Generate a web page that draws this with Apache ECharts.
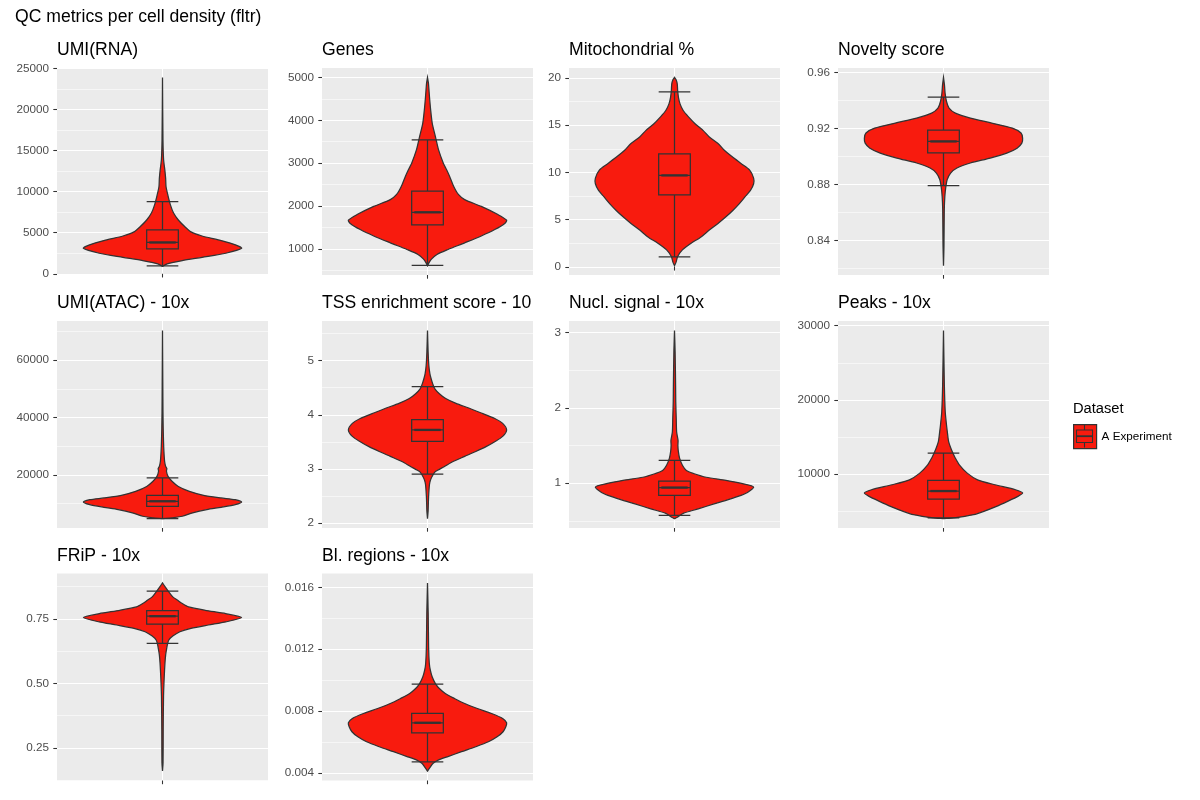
<!DOCTYPE html>
<html>
<head>
<meta charset="utf-8">
<script src="https://cdn.jsdelivr.net/npm/echarts@6/dist/echarts.min.js"></script>
<style>
  html, body { margin: 0; padding: 0; background: #fff; }
  #chart { width: 1200px; height: 800px; }
</style>
</head>
<body>
<div id="chart"></div>
<script>
// panel titles, in reading order
const panelTitles = ['UMI(RNA)', 'Genes', 'Mitochondrial %', 'Novelty score',
  'UMI(ATAC) - 10x', 'TSS enrichment score - 10x', 'Nucl. signal - 10x', 'Peaks - 10x',
  'FRiP - 10x', 'Bl. regions - 10x'];

// violin outlines: [value, relative density (1 = widest)]
const violinUmiRna = [[900,0],[1200,0.06],[1600,0.25],[2000,0.5],[2500,0.8],[3100,1],[3500,0.93],[4100,0.72],[4600,0.5],[5100,0.36],[5750,0.28],[6550,0.2],[7400,0.14],[8400,0.1],[9500,0.07],[10600,0.045],[11600,0.04],[12600,0.03],[13900,0.014],[16300,0.006],[23900,0]];
const violinGenes = [[605,0],[680,0.02],[760,0.05],[870,0.12],[985,0.26],[1140,0.47],[1300,0.68],[1450,0.85],[1600,0.98],[1670,1],[1800,0.89],[1990,0.68],[2150,0.47],[2270,0.39],[2460,0.33],[2690,0.28],[2850,0.24],[3000,0.2],[3310,0.14],[3620,0.1],[3930,0.06],[4240,0.04],[4550,0.025],[4860,0.012],[5000,0]];
const violinMito = [[0.12,0],[0.5,0.02],[1.1,0.04],[1.8,0.1],[2.5,0.21],[3.2,0.34],[3.9,0.44],[4.6,0.55],[5.3,0.65],[6.0,0.74],[6.7,0.82],[7.4,0.89],[8.1,0.96],[8.8,1],[9.4,1],[10.25,0.95],[10.95,0.84],[11.65,0.73],[12.35,0.63],[13.05,0.55],[13.75,0.44],[14.45,0.36],[15.15,0.26],[15.85,0.18],[16.55,0.11],[17.25,0.07],[17.95,0.05],[18.65,0.04],[19.35,0.035],[19.8,0.02],[20.05,0]];
const violinNovelty = [[0.8222,0],[0.836,0.006],[0.862,0.01],[0.8716,0.017],[0.8787,0.03],[0.8835,0.046],[0.8882,0.09],[0.8918,0.17],[0.8954,0.34],[0.8989,0.59],[0.9025,0.8],[0.906,0.93],[0.9096,0.99],[0.913,1],[0.9168,0.98],[0.9203,0.87],[0.9239,0.61],[0.9275,0.34],[0.931,0.15],[0.9346,0.07],[0.9393,0.038],[0.9453,0.02],[0.9512,0.012],[0.9565,0]];
const violinUmiAtac = [[4800,0],[5040,0.12],[5620,0.25],[6780,0.38],[7940,0.56],[8750,0.74],[9680,0.92],[10600,1],[11400,0.92],[12000,0.74],[12900,0.52],[14300,0.34],[16000,0.2],[17800,0.12],[19500,0.07],[21300,0.05],[22200,0.055],[23000,0.04],[24700,0.027],[28200,0.018],[31700,0.013],[36300,0.009],[42100,0.006],[51400,0.004],[70400,0]];
const violinTss = [[2.08,0],[2.22,0.008],[2.46,0.013],[2.71,0.025],[2.8,0.04],[2.89,0.07],[2.95,0.1],[3.04,0.21],[3.14,0.33],[3.23,0.47],[3.32,0.61],[3.41,0.74],[3.5,0.85],[3.6,0.95],[3.72,1],[3.84,0.95],[3.93,0.85],[4.02,0.7],[4.12,0.53],[4.21,0.36],[4.3,0.23],[4.39,0.15],[4.48,0.093],[4.58,0.064],[4.67,0.045],[4.76,0.03],[4.91,0.017],[5.16,0.008],[5.56,0]];
const violinNucl = [[0.531,0],[0.545,0.03],[0.6,0.11],[0.66,0.3],[0.73,0.51],[0.8,0.73],[0.86,0.89],[0.95,1],[0.996,0.86],[1.04,0.65],[1.08,0.4],[1.13,0.24],[1.17,0.15],[1.24,0.1],[1.33,0.065],[1.42,0.049],[1.5,0.043],[1.57,0.045],[1.68,0.027],[1.86,0.022],[2.08,0.016],[2.3,0.014],[2.74,0.008],[3.03,0]];
const violinPeaks = [[3950,0],[4040,0.13],[4480,0.38],[4930,0.51],[5600,0.67],[6280,0.81],[6950,0.94],[7400,1],[7850,0.91],[8520,0.65],[9190,0.43],[10090,0.3],[11210,0.2],[12110,0.15],[13000,0.11],[14350,0.065],[15700,0.048],[16590,0.038],[18390,0.022],[21970,0.011],[29370,0]];
const violinFrip = [[0.16,0],[0.192,0.007],[0.32,0.009],[0.45,0.013],[0.526,0.022],[0.578,0.031],[0.61,0.04],[0.63,0.05],[0.65,0.062],[0.668,0.08],[0.683,0.13],[0.7,0.22],[0.713,0.36],[0.726,0.58],[0.738,0.8],[0.755,1],[0.77,0.8],[0.783,0.54],[0.796,0.33],[0.809,0.25],[0.822,0.19],[0.835,0.13],[0.854,0.08],[0.873,0.036],[0.889,0]];
const violinBlRegions = [[0.00413,0],[0.0043,0.023],[0.00462,0.068],[0.00484,0.135],[0.00505,0.25],[0.00538,0.43],[0.0057,0.61],[0.00602,0.77],[0.00634,0.88],[0.00667,0.955],[0.00699,0.99],[0.00725,1],[0.00753,0.95],[0.00785,0.81],[0.00817,0.63],[0.00849,0.47],[0.00882,0.34],[0.00914,0.225],[0.00946,0.15],[0.00978,0.1],[0.0102,0.06],[0.01065,0.036],[0.01108,0.023],[0.01215,0.014],[0.0143,0.009],[0.01628,0]];

// box stats: [lower whisker, Q1, median, Q3, upper whisker]
const boxUmiRna = [970, 3040, 3810, 5350, 8790];
const boxGenes = [612, 1558, 1853, 2349, 3543];
const boxMito = [1.05, 7.61, 9.68, 11.96, 18.53];
const boxNovelty = [0.8792, 0.9027, 0.9108, 0.9189, 0.9424];
const boxUmiAtac = [4810, 9100, 10840, 12930, 18960];
const boxTss = [2.90, 3.51, 3.72, 3.91, 4.52];
const boxNucl = [0.575, 0.84, 0.943, 1.03, 1.305];
const boxPeaks = [4040, 6590, 7670, 9100, 12780];
const boxFrip = [0.655, 0.729, 0.760, 0.782, 0.857];
const boxBlRegions = [0.00473, 0.0066, 0.00725, 0.00785, 0.00974];

// y scale limits of each panel
const yLimits = [[-150, 25070], [390, 5220], [-0.86, 21.05], [0.8155, 0.9632],
  [1520, 73680], [1.906, 5.734], [0.406, 3.155], [2680, 30640],
  [0.1235, 0.9255], [0.00352, 0.01689]];

// major tick labels and minor grid breaks
const tickLabels = [
  ['0','5000','10000','15000','20000','25000'],
  ['1000','2000','3000','4000','5000'],
  ['0','5','10','15','20'],
  ['0.84','0.88','0.92','0.96'],
  ['20000','40000','60000'],
  ['2','3','4','5'],
  ['1','2','3'],
  ['10000','20000','30000'],
  ['0.25','0.50','0.75'],
  ['0.004','0.008','0.012','0.016']
];
const minorBreaks = [
  [2500,7500,12500,17500,22500],
  [500,1500,2500,3500,4500],
  [2.5,7.5,12.5,17.5],
  [0.82,0.86,0.90,0.94],
  [10000,30000,50000,70000],
  [2.5,3.5,4.5,5.5],
  [0.5,1.5,2.5],
  [5000,15000,25000],
  [0.125,0.375,0.625,0.875],
  [0.006,0.010,0.014]
];

const violins = [violinUmiRna, violinGenes, violinMito, violinNovelty, violinUmiAtac,
  violinTss, violinNucl, violinPeaks, violinFrip, violinBlRegions];
const boxes = [boxUmiRna, boxGenes, boxMito, boxNovelty, boxUmiAtac,
  boxTss, boxNucl, boxPeaks, boxFrip, boxBlRegions];

const FILL = '#F81B0E';
const DARK = '#333333';
const FONT = 'Liberation Sans, Arial, sans-serif';
const colLeft = [57, 322, 569, 838];
const rowTop = [68, 321, 573.5];
const titleTop = [41, 294, 547];
const panelW = 211, panelH = 207;
const halfWidth = 0.45;   // violin width 0.9
const boxHalf = 0.075;    // box width 0.15
const LW = 1.25;

const chart = echarts.init(document.getElementById('chart'), null, {renderer: 'canvas'});

const grids = [], xAxes = [], yAxes = [], series = [];
const titles = [{
  text: 'QC metrics per cell density (fltr)', left: 15, top: 8, padding: 0,
  textStyle: {fontSize: 17.6, fontWeight: 'normal', color: '#000', fontFamily: FONT}
}];

panelTitles.forEach(function (name, i) {
  const r = Math.floor(i / 4), c = i % 4;
  grids.push({
    left: colLeft[c], top: rowTop[r], width: panelW, height: panelH,
    show: true, backgroundColor: '#EBEBEB', borderWidth: 0, containLabel: false,
    outerBoundsMode: 'none'
  });
  titles.push({
    text: name, left: colLeft[c], top: titleTop[r], padding: 0,
    textStyle: {fontSize: 17.6, fontWeight: 'normal', color: '#000', fontFamily: FONT,
      width: 216, overflow: 'truncate', ellipsis: ''}
  });
  xAxes.push({
    type: 'value', gridIndex: i, min: 0.4, max: 1.6,
    axisLine: {show: false},
    axisTick: {show: true, customValues: [1], length: 3.7, lineStyle: {color: DARK, width: 1.07}},
    axisLabel: {show: false},
    splitLine: {show: true, lineStyle: {color: '#fff', width: 1.07}}
  });
  const labels = tickLabels[i];
  const ticks = labels.map(Number);
  yAxes.push({
    type: 'value', gridIndex: i, min: yLimits[i][0], max: yLimits[i][1],
    axisLine: {show: false},
    axisTick: {show: true, customValues: ticks, length: 3.7, lineStyle: {color: DARK, width: 1.07}},
    axisLabel: {
      customValues: ticks, margin: 8, color: '#4D4D4D', fontSize: 11.7, fontFamily: FONT,
      formatter: function (v) {
        const hit = labels.find(function (l) { return Math.abs(Number(l) - v) < 1e-9; });
        return hit === undefined ? '' : hit;
      }
    },
    splitLine: {show: true, lineStyle: {color: '#fff', width: 1.07}}
  });
  // minor grid lines
  yAxes.push({
    type: 'value', gridIndex: i, min: yLimits[i][0], max: yLimits[i][1],
    axisLine: {show: false},
    axisTick: {show: false, customValues: minorBreaks[i]},
    axisLabel: {show: false, customValues: minorBreaks[i]},
    splitLine: {show: true, lineStyle: {color: '#fff', width: 0.55}}
  });

  const profile = violins[i];
  series.push({
    type: 'custom', name: 'A Experiment', xAxisIndex: i, yAxisIndex: 2 * i,
    clip: true, silent: true, z: 2,
    itemStyle: {color: FILL},
    encode: {x: 0, y: 1},
    data: [[1, boxes[i][2]]],
    renderItem: function (params, api) {
      const left = [], right = [];
      profile.forEach(function (p) {
        left.push(api.coord([1 - p[1] * halfWidth, p[0]]));
        right.push(api.coord([1 + p[1] * halfWidth, p[0]]));
      });
      return {
        type: 'polygon',
        shape: {points: left.concat(right.reverse()), smooth: 0.25},
        style: {fill: FILL, stroke: DARK, lineWidth: LW}
      };
    }
  });
  series.push({
    type: 'boxplot', xAxisIndex: i, yAxisIndex: 2 * i, layout: 'horizontal',
    boxWidth: [String(boxHalf * 200) + '%', String(boxHalf * 200) + '%'], silent: true, z: 3,
    itemStyle: {color: FILL, borderColor: DARK, borderWidth: LW},
    emphasis: {disabled: true},
    data: [[1].concat(boxes[i])]
  });
  // thicker median bar, like ggplot's fatten = 2
  series.push({
    type: 'custom', xAxisIndex: i, yAxisIndex: 2 * i, silent: true, z: 4,
    encode: {x: 0, y: 1},
    data: [[1, boxes[i][2]]],
    renderItem: function (params, api) {
      const x = api.value(0), y = api.value(1);
      const a = api.coord([x - boxHalf, y]), b = api.coord([x + boxHalf, y]);
      return {
        type: 'line',
        shape: {x1: a[0], y1: a[1], x2: b[0], y2: b[1]},
        style: {stroke: DARK, lineWidth: 2.3}
      };
    }
  });
});

titles.push({
  text: 'Dataset', left: 1073, top: 401, padding: 0,
  textStyle: {fontSize: 14.7, fontWeight: 'normal', color: '#000', fontFamily: FONT}
});

chart.setOption({
  animation: false,
  backgroundColor: '#fff',
  title: titles,
  grid: grids,
  xAxis: xAxes,
  yAxis: yAxes,
  legend: {
    left: 1073, top: 424, orient: 'vertical', padding: 0,
    itemWidth: 23, itemHeight: 24, itemGap: 6, selectedMode: false,
    textStyle: {fontSize: 11.7, color: '#000', fontFamily: FONT},
    data: [{name: 'A Experiment', icon: 'rect',
      itemStyle: {color: FILL, borderColor: DARK, borderWidth: 1.2}}]
  },
  // inner box glyph of the legend key
  graphic: [
    {type: 'rect', z: 100, shape: {x: 1076.5, y: 430, width: 16, height: 12.5},
      style: {fill: 'none', stroke: DARK, lineWidth: 1.1}},
    {type: 'line', z: 100, shape: {x1: 1076.5, y1: 436.2, x2: 1092.5, y2: 436.2},
      style: {stroke: DARK, lineWidth: 1.8}},
    {type: 'line', z: 100, shape: {x1: 1084.5, y1: 425, x2: 1084.5, y2: 430},
      style: {stroke: DARK, lineWidth: 1.1}},
    {type: 'line', z: 100, shape: {x1: 1084.5, y1: 442.5, x2: 1084.5, y2: 447.5},
      style: {stroke: DARK, lineWidth: 1.1}}
  ],
  series: series
});
</script>
</body>
</html>
